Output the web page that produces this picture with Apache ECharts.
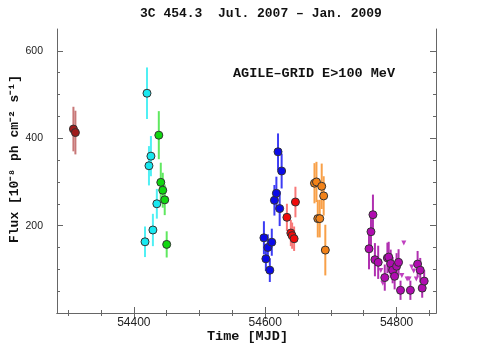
<!DOCTYPE html>
<html>
<head>
<meta charset="utf-8">
<script src="https://cdn.jsdelivr.net/npm/echarts@6/dist/echarts.min.js"></script>
<style>
html, body { margin: 0; padding: 0; background: #fff; }
#chart { width: 480px; height: 359px; }
</style>
</head>
<body>
<div id="chart"></div>
<script>
// 3C 454.3 light curve, AGILE-GRID E>100 MeV
const brownMjd = [54308, 54311]
const brownFlux = [421, 413]
const brownErr = [51, 50]

const cyanMjd = [54417, 54420, 54423, 54426, 54429, 54435]
const cyanFlux = [163, 503, 337, 359, 190, 250]
const cyanErr = [35, 59, 45, 46, 37, 34]

const greenMjd = [54438, 54441, 54444, 54447, 54450]
const greenFlux = [407, 299, 281, 259, 157]
const greenErr = [55, 45, 40, 35, 30]

const blueMjd = [54598, 54601, 54604, 54607, 54610, 54614, 54617, 54619.5, 54622, 54625]
const blueFlux = [172, 124, 150, 98, 162, 258, 274, 369, 239, 325]
const blueErr = [38, 28, 30, 27, 31, 35, 38, 42, 40, 40]

const redMjd = [54633, 54639, 54641, 54644, 54646]
const redFlux = [219, 183, 177, 170, 254]
const redErr = [31, 30, 30, 28, 35]

const orangeMjd = [54675, 54678, 54680, 54683, 54686, 54689, 54691.5]
const orangeFlux = [297, 300, 216, 216, 290, 268, 144]
const orangeErr = [46, 46, 43, 43, 52, 45, 58]

const purpleMjd = [54758, 54761, 54764, 54767, 54772, 54782, 54786, 54788, 54791, 54794, 54797, 54800, 54803, 54806, 54821, 54832, 54836, 54839, 54842]
const purpleFlux = [147, 186, 225, 122, 116, 81, 126, 128, 113, 98, 84, 107, 116, 52, 52, 112, 98, 57, 73]
const purpleErr = [47, 42, 46, 38, 38, 30, 35, 35, 32, 30, 30, 30, 30, 22, 22, 30, 28, 22, 25]

// upper limits
const ulMjd = [54776, 54779, 54808, 54811, 54816, 54819, 54823, 54826, 54830]
const ulFlux = [97, 68, 86, 160, 78, 78, 105, 96, 78]

const xMajor = [54400, 54600, 54800]
const xMinor = [54300, 54350, 54450, 54500, 54550, 54650, 54700, 54750, 54850]
const yMajor = [200, 400, 600]
const yMinor = [50, 100, 150, 250, 300, 350, 450, 500, 550]

const groups = [
  { mjd: brownMjd, flux: brownFlux, err: brownErr, fill: '#a01c1c', bar: '#c87878' },
  { mjd: cyanMjd, flux: cyanFlux, err: cyanErr, fill: '#18e8f0', bar: '#50f0f4' },
  { mjd: greenMjd, flux: greenFlux, err: greenErr, fill: '#10d810', bar: '#60e860' },
  { mjd: blueMjd, flux: blueFlux, err: blueErr, fill: '#0a0ae8', bar: '#3c3cf4' },
  { mjd: redMjd, flux: redFlux, err: redErr, fill: '#f00a0a', bar: '#f87878' },
  { mjd: orangeMjd, flux: orangeFlux, err: orangeErr, fill: '#f28218', bar: '#f8a048' },
  { mjd: purpleMjd, flux: purpleFlux, err: purpleErr, fill: '#b00cb0', bar: '#b030b0' }
]

const X_MIN = 54283
const X_MAX = 54860
const axisColor = '#666'
const nameFont = '"Liberation Mono"'

function makeX(pos, labels, ticks, len, showLine) {
  return {
    type: 'value', position: pos, min: X_MIN, max: X_MAX,
    axisLine: { show: showLine, lineStyle: { color: axisColor, width: 1 } },
    axisTick: { show: true, inside: true, length: len, customValues: ticks, lineStyle: { color: axisColor } },
    axisLabel: { show: labels, margin: 4, customValues: ticks, formatter: v => String(v),
      fontFamily: 'Liberation Sans', fontSize: 12, color: '#222' },
    splitLine: { show: false }
  }
}
function makeY(pos, labels, ticks, len, showLine) {
  return {
    type: 'value', position: pos, min: 0, max: 650,
    axisLine: { show: showLine, lineStyle: { color: axisColor, width: 1 } },
    axisTick: { show: true, inside: true, length: len, customValues: ticks, lineStyle: { color: axisColor } },
    axisLabel: { show: labels, margin: 14, customValues: ticks, formatter: v => String(v),
      fontFamily: 'Liberation Sans', fontSize: 10.5, color: '#222' },
    splitLine: { show: false }
  }
}

function errorBar(color) {
  return function(params, api) {
    const a = api.coord([api.value(0), api.value(2)])
    const b = api.coord([api.value(0), api.value(3)])
    return {
      type: 'line',
      shape: { x1: a[0], y1: a[1], x2: b[0], y2: b[1] },
      style: { stroke: color, lineWidth: 2 }
    }
  }
}

const series = []
groups.forEach(g => {
  series.push({
    type: 'custom',
    renderItem: errorBar(g.bar),
    encode: { x: 0, y: [2, 3] },
    clip: true,
    z: 1,
    data: g.mjd.map((m, i) => [m, g.flux[i], g.flux[i] - g.err[i], g.flux[i] + g.err[i]])
  })
})
groups.forEach(g => {
  series.push({
    type: 'scatter',
    symbol: 'circle',
    symbolSize: 8,
    itemStyle: { color: g.fill, borderColor: '#333', borderWidth: 1, opacity: 1 },
    z: 3,
    data: g.mjd.map((m, i) => [m, g.flux[i]])
  })
})
series.push({
  type: 'scatter',
  symbol: 'triangle',
  symbolRotate: 180,
  symbolSize: 5,
  itemStyle: { color: '#c040c0', opacity: 1 },
  z: 2,
  data: ulMjd.map((m, i) => [m, ulFlux[i]])
})

const chart = echarts.init(document.getElementById('chart'), null, { renderer: 'canvas' })
chart.setOption({
  animation: false,
  backgroundColor: '#fff',
  grid: { left: 57, right: 44, top: 29, bottom: 46 },
  xAxis: [
    makeX('bottom', true, xMajor, 6, true),
    makeX('bottom', false, xMinor, 3, false),
    makeX('top', false, xMajor, 6, true),
    makeX('top', false, xMinor, 3, false)
  ],
  yAxis: [
    makeY('left', true, yMajor, 6, true),
    makeY('left', false, yMinor, 3, false),
    makeY('right', false, yMajor, 6, true),
    makeY('right', false, yMinor, 3, false)
  ],
  graphic: [
    {
      type: 'text', left: 140, top: 7,
      style: { text: '3C 454.3  Jul. 2007 \u2013 Jan. 2009', font: 'bold 13px ' + nameFont, fill: '#111' }
    },
    {
      type: 'text', left: 233, top: 67,
      style: { text: 'AGILE\u2013GRID E>100 MeV', font: 'bold 13.5px ' + nameFont, fill: '#111' }
    },
    {
      type: 'text', left: 207, top: 330,
      style: { text: 'Time [MJD]', font: 'bold 13.5px ' + nameFont, fill: '#111' }
    },
    {
      type: 'text', x: 8, y: 243, rotation: Math.PI / 2,
      style: { text: 'Flux [10\u207b\u2078 ph cm\u207b\u00b2 s\u207b\u00b9]', font: 'bold 13px ' + nameFont, fill: '#111' }
    }
  ],
  series: series
})
</script>
</body>
</html>
